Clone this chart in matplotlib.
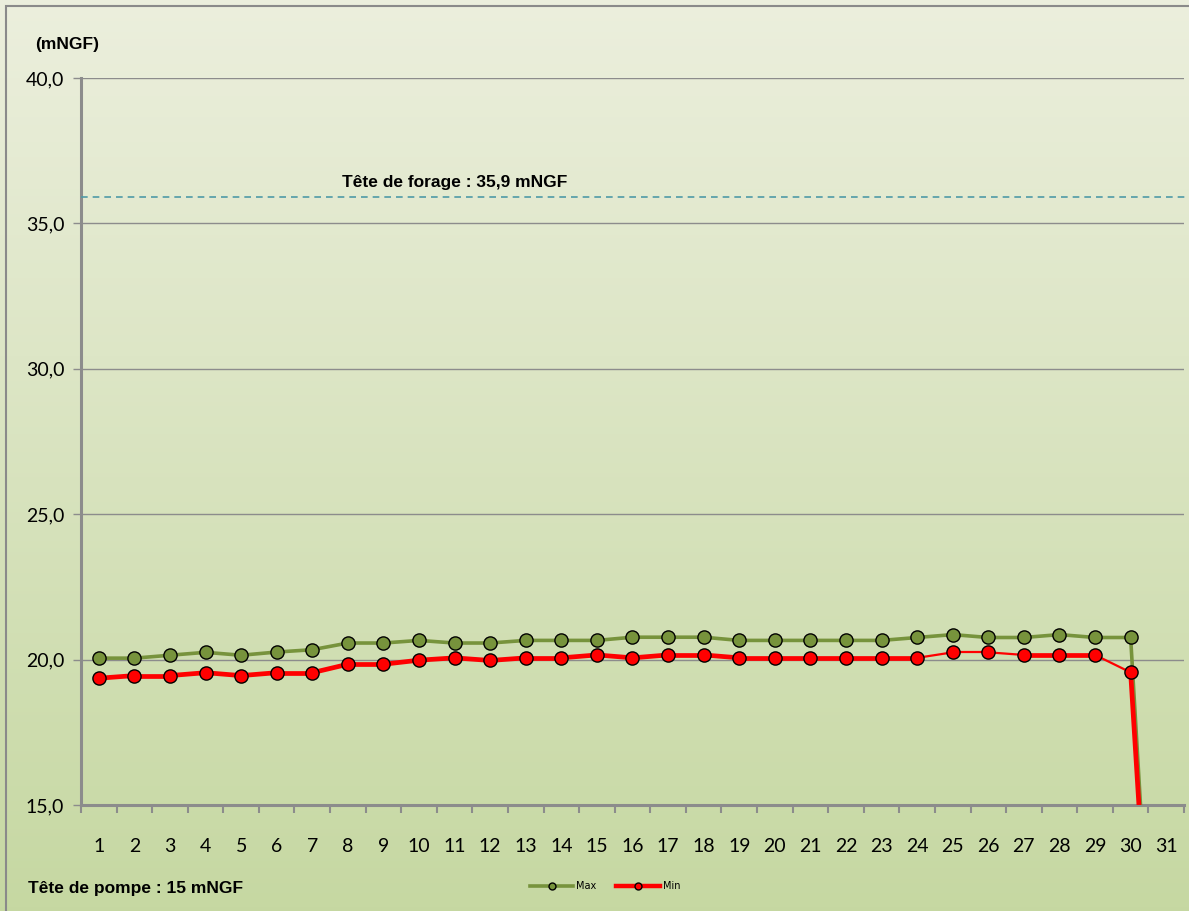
import matplotlib
matplotlib.use("Agg")
import matplotlib.pyplot as plt
import matplotlib.lines as mlines
import numpy as np
from matplotlib.patches import Rectangle

# --- data (mNGF) ---
days = list(range(1, 32))
niv_max = [20.05, 20.05, 20.15, 20.25, 20.15, 20.26, 20.34, 20.57, 20.57, 20.66,
           20.57, 20.57, 20.66, 20.66, 20.66, 20.77, 20.77, 20.77, 20.66, 20.66,
           20.66, 20.66, 20.66, 20.76, 20.86, 20.76, 20.76, 20.86, 20.76, 20.76, 0.0]
niv_min = [19.36, 19.45, 19.45, 19.55, 19.45, 19.55, 19.55, 19.84, 19.84, 19.98,
           20.06, 19.97, 20.06, 20.06, 20.16, 20.06, 20.16, 20.16, 20.06, 20.06,
           20.06, 20.06, 20.06, 20.06, 20.25, 20.25, 20.16, 20.16, 20.16, 19.56, 0.0]
tete_forage = 35.9
yticks = [15, 20, 25, 30, 35, 40]

GREEN = "#77933c"
RED = "#ff0000"
GRID = "#8c8c8c"
TEAL = "#4f9aa6"

fig = plt.figure(figsize=(11.89, 9.11), dpi=100)

# gradient background over the whole figure
bg = fig.add_axes([0, 0, 1, 1], zorder=-10)
grad = np.linspace(0, 1, 256).reshape(-1, 1)
top = np.array([0.925, 0.937, 0.867])
bot = np.array([0.776, 0.847, 0.635])
img = top[None, None, :] * (1 - grad[:, :, None]) + bot[None, None, :] * grad[:, :, None]
bg.imshow(img, aspect="auto", extent=[0, 1, 0, 1], origin="upper")
bg.add_patch(Rectangle((6 / 1189, -0.01), 1.1, 1 - 6 / 911 + 0.01, fill=False,
                       edgecolor="#8a8a8a", linewidth=1.5, transform=bg.transAxes))
bg.set_xlim(0, 1)
bg.set_ylim(0, 1)
bg.axis("off")

ax = fig.add_axes([81 / 1189, 1 - 805 / 911, 1103 / 1189, 727 / 911])
ax.patch.set_alpha(0)

x = np.arange(len(days))
mk = dict(marker="o", markersize=9.5, markeredgecolor="black", markeredgewidth=1.0)

ax.plot(x, niv_max, color=GREEN, linewidth=2.6, linestyle="-", zorder=4)
ax.plot(x, niv_max, linestyle="none", markerfacecolor=GREEN, zorder=6, **mk)

# red line: a few segments are drawn thin in the original
thin = {23, 24, 25, 28}
for i in range(len(days) - 1):
    ax.plot(x[i:i + 2], niv_min[i:i + 2], color=RED,
            linewidth=1.6 if i in thin else 3.4, solid_capstyle="butt", zorder=5)
ax.plot(x, niv_min, linestyle="none", markerfacecolor=RED, zorder=7, **mk)

ax.axhline(tete_forage, color=TEAL, linestyle=(0, (4, 3)), linewidth=1.2,
           xmax=1.01, clip_on=False, zorder=3)
ax.text(10, tete_forage + 0.25, "Tête de forage : 35,9 mNGF", ha="center", va="bottom",
        fontsize=12.5, fontweight="bold", family="Liberation Sans")

ax.set_xlim(-0.5, len(days) - 0.5)
ax.set_ylim(15, 40)
ax.set_yticks(yticks)
ax.set_yticklabels([f"{v:.1f}".replace(".", ",") for v in yticks],
                   fontsize=14, family="Lato")
ax.set_xticks(x)
ax.set_xticklabels([str(d) for d in days], fontsize=14, family="Lato")
ax.set_xticks(np.arange(-0.5, len(days)), minor=True)
ax.tick_params(axis="x", which="major", length=0, pad=24)
ax.tick_params(axis="x", which="minor", length=6, color=GRID, width=1.5, direction="out")
ax.tick_params(axis="y", length=6, color=GRID, width=1.0, pad=6)
ax.yaxis.grid(True, color=GRID, linewidth=1.0)
ax.set_axisbelow(True)

for s in ["top", "right"]:
    ax.spines[s].set_visible(False)
ax.spines["left"].set_color(GRID)
ax.spines["left"].set_linewidth(2.2)
ax.spines["bottom"].set_color(GRID)
ax.spines["bottom"].set_linewidth(2.2)

fig.text(35 / 1189, 1 - 45 / 911, "(mNGF)", fontsize=12.5, fontweight="bold",
         family="Liberation Sans", va="center")
fig.text(28 / 1189, 1 - 888 / 911, "Tête de pompe : 15 mNGF", fontsize=12.5,
         fontweight="bold", family="Liberation Sans", va="center")

h_max = mlines.Line2D([], [], color=GREEN, linewidth=2.6, marker="o", markersize=5,
                      markerfacecolor=GREEN, markeredgecolor="black", label="Max")
h_min = mlines.Line2D([], [], color=RED, linewidth=3.2, marker="o", markersize=5,
                      markerfacecolor=RED, markeredgecolor="black", label="Min")
fig.legend(handles=[h_max, h_min], loc="center",
           bbox_to_anchor=(605 / 1189, 1 - 886 / 911), ncol=2, frameon=False,
           fontsize=7, handlelength=4.5, columnspacing=2.0, handletextpad=0.3)

fig.savefig("out.png", dpi=100)
